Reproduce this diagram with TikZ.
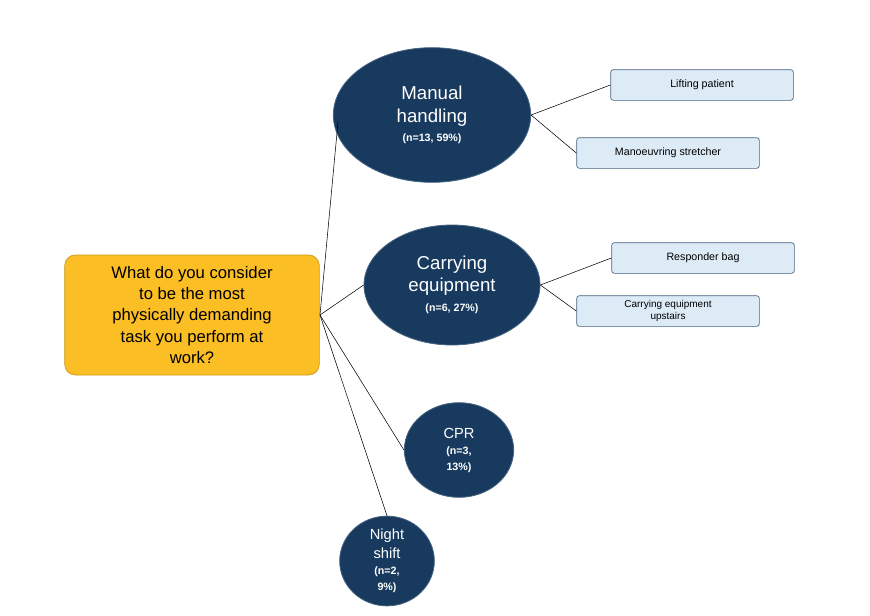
\documentclass[tikz,border=0pt]{standalone}
\usepackage{fontspec}
\setmainfont{Liberation Sans}
\usetikzlibrary{shapes.geometric}
\definecolor{navy}{RGB}{24,58,94}
\definecolor{gold}{RGB}{251,190,36}
\definecolor{pale}{RGB}{221,235,247}
\definecolor{edge}{RGB}{70,100,130}

\begin{document}
\begin{tikzpicture}[x=0.75pt,y=0.75pt,yscale=-1,xscale=1,
  topic/.style={ellipse,fill=navy,draw=edge,line width=0.6pt,text=white,align=center,inner sep=0pt},
  big/.style={font=\fontsize{14}{17}\selectfont},
  mid/.style={font=\fontsize{11}{14}\selectfont},
  item/.style={rectangle,rounded corners=2pt,fill=pale,draw=edge,line width=0.5pt,minimum width=137pt,minimum height=23pt,font=\fontsize{8}{9.5}\selectfont,align=center},
  link/.style={draw=black,line width=0.4pt}]
\useasboundingbox (0,0) rectangle (870,615);
\newcommand{\cnt}[1]{{\fontsize{8}{11}\selectfont\bfseries #1}}

%Question box
\node [rectangle,rounded corners=8pt,fill=gold,draw=gold!80!black,line width=0.5pt,minimum width=191pt,minimum height=90pt,align=center,font=\fontsize{12.5}{16}\selectfont] (question) at (192,315) {What do you consider\\to be the most\\physically demanding\\task you perform at\\work?};

%Topics
\node [topic,big,minimum width=148pt,minimum height=101pt] (manual) at (432,115) {Manual\\handling\\[-3pt]\cnt{(n=13, 59\%)}};
\node [topic,big,minimum width=132pt,minimum height=90pt] (carry) at (452,285) {Carrying\\equipment\\[-2pt]\cnt{(n=6, 27\%)}};
\node [topic,mid,minimum width=82pt,minimum height=71pt] (cpr) at (459,450) {CPR\\[-2pt]\cnt{(n=3,}\\[-2pt]\cnt{13\%)}};
\node [topic,mid,minimum width=71pt,minimum height=66pt] (night) at (387,561) {Night\\shift\\[-2pt]\cnt{(n=2,}\\[-2pt]\cnt{9\%)}};

%Items
\node [item] (lifting) at (702,85) {Lifting patient};
\node [item] (stretcher) at (668,153) {Manoeuvring stretcher};
\node [item] (bag) at (703,258) {Responder bag};
\node [item,font=\fontsize{7.5}{8.5}\selectfont] (upstairs) at (668,311) {Carrying equipment\\upstairs};

%Connectors
\coordinate (hub) at (320,315);
\draw [link] (hub) -- (338,122);
\draw [link] (hub) -- (carry.west);
\draw [link] (hub) -- (cpr.west);
\draw [link] (hub) -- (night.north);
\draw [link] (manual.east) -- (lifting.west);
\draw [link] (manual.east) -- (stretcher.west);
\draw [link] (carry.east) -- (bag.west);
\draw [link] (carry.east) -- (upstairs.west);
\end{tikzpicture}
\end{document}
